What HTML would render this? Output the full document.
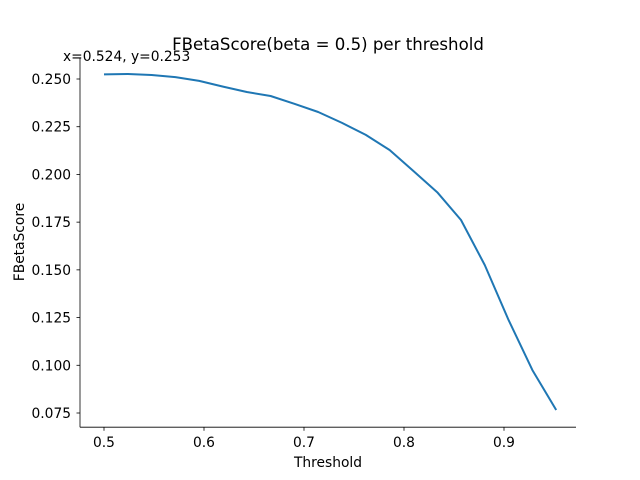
<!DOCTYPE html>
<html><head><meta charset="utf-8"><style>
body{margin:0;background:#fff;}
svg{display:block;font-family:"DejaVu Sans","Liberation Sans",sans-serif;}
</style></head><body>
<svg id="chart" width="640" height="480">
<rect width="640" height="480" fill="#fff"/>
<text x="328" y="50" font-size="16.6" text-anchor="middle">FBetaScore(beta = 0.5) per threshold</text>
<text x="63" y="61" font-size="13.8">x=0.524, y=0.253</text>
<g id="axes"></g>
<text x="328" y="467" font-size="13.8" text-anchor="middle">Threshold</text>
<text transform="translate(24,242) rotate(-90)" font-size="13.8" text-anchor="middle">FBetaScore</text>
</svg>
<script>
const xValues=[0.5,0.5238,0.5476,0.5714,0.5952,0.619,0.6428,0.6666,0.6904,0.7142,0.738,0.7618,0.7856,0.8094,0.8332,0.857,0.8808,0.9046,0.9284,0.9522];
const yValues=[0.2524,0.2526,0.2521,0.251,0.249,0.246,0.2432,0.2411,0.237,0.2327,0.227,0.2207,0.2128,0.2018,0.1907,0.1761,0.1525,0.1237,0.0975,0.0766];
const xTicks=[0.5,0.6,0.7,0.8,0.9];
const xTickLabels=["0.5","0.6","0.7","0.8","0.9"];
const yTicks=[0.075,0.1,0.125,0.15,0.175,0.2,0.225,0.25];
const yTickLabels=["0.075","0.100","0.125","0.150","0.175","0.200","0.225","0.250"];
const NS="http://www.w3.org/2000/svg";
const L=80,R=576,T=57.6,B=427.2;
const sx=v=>104+(v-0.5)*1000;
const sy=v=>79+(0.25-v)*1908.6;
const g=document.getElementById('axes');
function mk(t,a){const e=document.createElementNS(NS,t);for(const k in a)e.setAttribute(k,a[k]);g.appendChild(e);return e;}
let e=mk('line',{x1:L,y1:T,x2:L,y2:B,stroke:'#000','stroke-width':0.8});


e=mk('line',{x1:L,y1:B,x2:R,y2:B,stroke:'#000','stroke-width':0.8});


xTicks.forEach((v,i)=>{
 const x=sx(v);
 let t=mk('line',{x1:x,y1:B,x2:x,y2:B+3.5,stroke:'#000','stroke-width':0.8});
 
 
 let s=mk('text',{x:x,y:B+20,'font-size':13.8,'text-anchor':'middle'});
 s.textContent=xTickLabels[i];
 
 
});
yTicks.forEach((v,i)=>{
 const y=sy(v);
 let t=mk('line',{x1:L-3.5,y1:y,x2:L,y2:y,stroke:'#000','stroke-width':0.8});
 
 
 let s=mk('text',{x:L-9,y:y+5,'font-size':13.8,'text-anchor':'end'});
 s.textContent=yTickLabels[i];
 
 
});
const pts=xValues.map((x,i)=>sx(x).toFixed(1)+','+sy(yValues[i]).toFixed(1)).join(' ');
const line=mk('polyline',{points:pts,fill:'none',stroke:'#1f77b4','stroke-width':2,'stroke-linejoin':'round'});


</script>
</body></html>
